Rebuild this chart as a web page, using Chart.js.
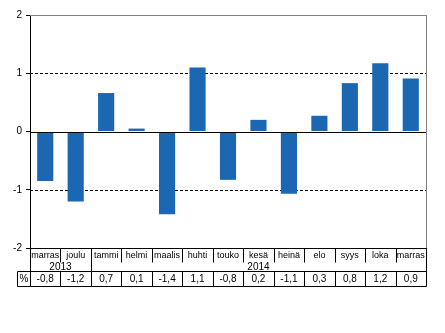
<!DOCTYPE html>
<html>
<head>
<meta charset="utf-8">
<script src="https://cdn.jsdelivr.net/npm/chart.js@4"></script>
<style>
  html, body { margin: 0; padding: 0; background: #fff; }
  #wrap { width: 445px; height: 333px; }
</style>
</head>
<body>
<div id="wrap"><canvas id="chart" width="445" height="333"></canvas></div>
<script>
// month labels along the bottom
const categories = ["marras", "joulu", "tammi", "helmi", "maalis", "huhti", "touko", "kesä", "heinä", "elo", "syys", "loka", "marras"];
// bar heights as drawn
const barValues = [-0.85, -1.2, 0.66, 0.05, -1.42, 1.1, -0.83, 0.2, -1.07, 0.27, 0.83, 1.17, 0.91];
// rounded values in the % row
const tableValues = [-0.8, -1.2, 0.7, 0.1, -1.4, 1.1, -0.8, 0.2, -1.1, 0.3, 0.8, 1.2, 0.9];
// year groups: label, first and last category index
const yearLabels = ["2013", "2014"];
const yearStart = [0, 2];
const yearEnd = [1, 12];
const yTicks = [-2, -1, 0, 1, 2];

const FAMILY = '"Liberation Sans", Arial, sans-serif';

function fmt(v) {
  return v.toFixed(1).replace(".", ",");
}

// grid lines + frame + data table under the plot
const tablePlugin = {
  id: "table",
  beforeDatasetsDraw(chart) {
    const { ctx, chartArea: a, scales: { y } } = chart;
    ctx.save();
    ctx.lineWidth = 1;
    yTicks.forEach(t => {
      const py = Math.round(y.getPixelForValue(t)) + 0.5;
      if (t === 1 || t === -1) {
        ctx.strokeStyle = "#000";
        ctx.setLineDash([3, 2]);
      } else if (t === 2) {
        ctx.strokeStyle = "#808080";
        ctx.setLineDash([]);
      } else {
        return;
      }
      ctx.beginPath();
      ctx.moveTo(a.left, py);
      ctx.lineTo(a.right, py);
      ctx.stroke();
    });
    ctx.setLineDash([]);
    // right border
    ctx.strokeStyle = "#808080";
    ctx.beginPath();
    ctx.moveTo(Math.round(a.right) + 0.5, a.top);
    ctx.lineTo(Math.round(a.right) + 0.5, a.bottom);
    ctx.stroke();
    ctx.restore();
  },
  afterDatasetsDraw(chart) {
    const { ctx, chartArea: a, scales: { x, y } } = chart;
    const colW = a.width / categories.length;
    const edge = i => Math.round(x.getPixelForValue(i) - colW / 2) + 0.5;
    const left = Math.round(a.left) + 0.5;
    const right = Math.round(a.right) + 0.5;
    const top = Math.round(a.bottom) + 0.5;
    const monthBottom = top + 14;
    const yearBottom = top + 23;
    const pctBottom = yearBottom + 15;

    ctx.save();
    ctx.strokeStyle = "#000";
    ctx.lineWidth = 1;

    // zero line
    const y0 = Math.round(y.getPixelForValue(0)) + 0.5;
    ctx.beginPath();
    ctx.moveTo(a.left, y0);
    ctx.lineTo(a.right, y0);
    ctx.stroke();

    ctx.beginPath();
    // horizontal lines
    ctx.moveTo(left, top); ctx.lineTo(right, top);
    ctx.moveTo(17.5, yearBottom); ctx.lineTo(right, yearBottom);
    ctx.moveTo(17.5, pctBottom); ctx.lineTo(right, pctBottom);
    // outer verticals
    ctx.moveTo(left, top); ctx.lineTo(left, pctBottom);
    ctx.moveTo(right, a.bottom); ctx.lineTo(right, pctBottom);
    ctx.moveTo(17.5, yearBottom); ctx.lineTo(17.5, pctBottom);
    // column separators
    for (let i = 1; i < categories.length; i++) {
      const ex = edge(i);
      const groupEdge = yearStart.includes(i);
      ctx.moveTo(ex, top);
      ctx.lineTo(ex, groupEdge ? yearBottom : monthBottom);
      ctx.moveTo(ex, yearBottom);
      ctx.lineTo(ex, pctBottom);
    }
    ctx.stroke();

    ctx.fillStyle = "#000";
    ctx.textAlign = "center";
    ctx.textBaseline = "middle";
    ctx.font = "9px " + FAMILY;
    categories.forEach((c, i) => {
      ctx.fillText(c, x.getPixelForValue(i), top + 7);
    });
    ctx.font = "10px " + FAMILY;
    yearLabels.forEach((lbl, k) => {
      const cx = (x.getPixelForValue(yearStart[k]) + x.getPixelForValue(yearEnd[k])) / 2;
      ctx.fillText(lbl, cx, top + 18.5);
    });
    tableValues.forEach((v, i) => {
      ctx.fillText(fmt(v), x.getPixelForValue(i), yearBottom + 8);
    });
    ctx.fillText("%", (17.5 + left) / 2, yearBottom + 8);
    ctx.restore();
  }
};

new Chart(document.getElementById("chart"), {
  type: "bar",
  data: {
    labels: categories,
    datasets: [{
      data: barValues,
      backgroundColor: "#1b67b2",
      borderWidth: 0,
      categoryPercentage: 1,
      barPercentage: 0.53
    }]
  },
  options: {
    responsive: false,
    animation: false,
    events: [],
    layout: { padding: { left: 0, top: 15, right: 19, bottom: 85 } },
    plugins: { legend: { display: false }, tooltip: { enabled: false } },
    scales: {
      x: { display: false },
      y: {
        min: -2,
        max: 2,
        afterFit: s => { s.width = 30; },
        ticks: {
          stepSize: 1,
          color: "#000",
          padding: 4,
          font: { family: FAMILY, size: 10 }
        },
        grid: { drawOnChartArea: false, drawTicks: true, tickLength: 4, color: "#000" },
        border: { color: "#000", width: 1 }
      }
    }
  },
  plugins: [tablePlugin]
});
</script>
</body>
</html>
